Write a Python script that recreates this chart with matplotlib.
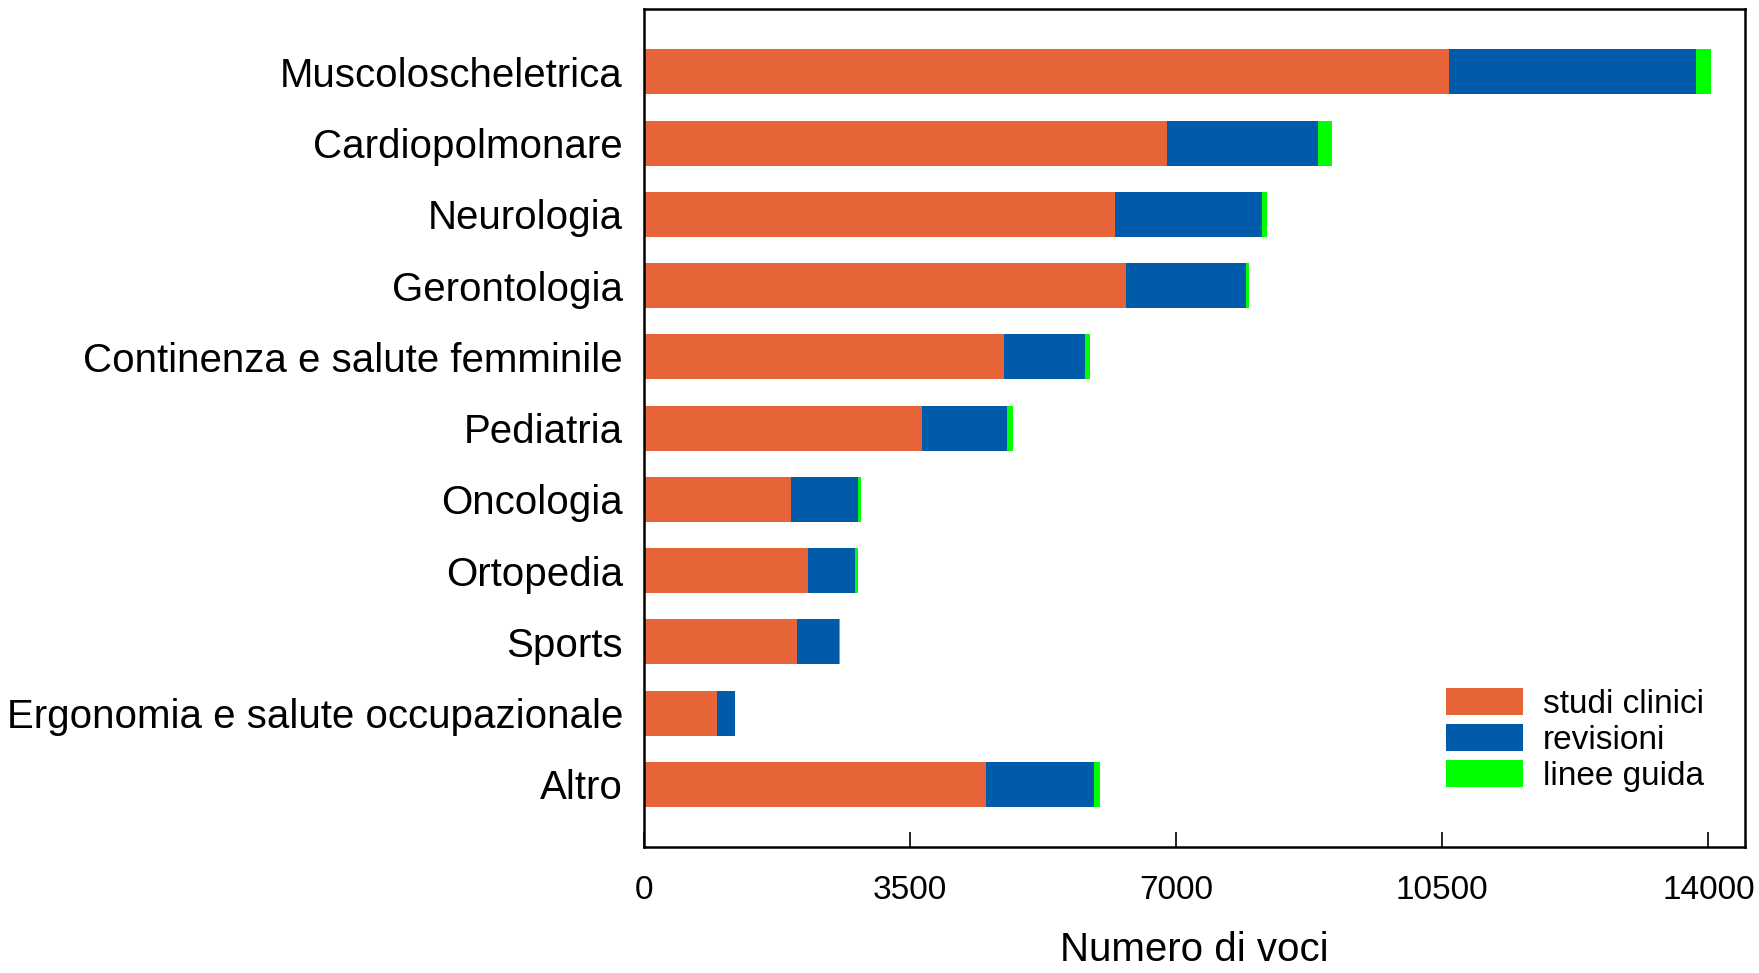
import numpy as np
import matplotlib.pyplot as plt

plt.rcParams['font.family'] = ['Liberation Sans', 'DejaVu Sans']

# categorie e valori
categorie = ['Muscoloscheletrica', 'Cardiopolmonare', 'Neurologia', 'Gerontologia',
             'Continenza e salute femminile', 'Pediatria', 'Oncologia', 'Ortopedia',
             'Sports', 'Ergonomia e salute occupazionale', 'Altro']
studi_clinici = [10590, 6880, 6190, 6340, 4740, 3660, 1935, 2155, 2010, 960, 4500]
revisioni = [3250, 1980, 1935, 1580, 1065, 1120, 885, 620, 560, 235, 1420]
linee_guida = [190, 190, 75, 45, 60, 75, 30, 45, 15, 10, 75]

col_studi = '#E66438'
col_rev = '#005BAA'
col_linee = '#00FF00'

fig = plt.figure(figsize=(17.59, 9.73), dpi=100)
ax = fig.add_axes([0.366, 0.1295, 0.626, 0.861])

y = np.arange(len(categorie))
h = 0.63
s = np.array(studi_clinici)
r = np.array(revisioni)
l = np.array(linee_guida)

ax.barh(y, s, h, color=col_studi, label='studi clinici')
ax.barh(y, r, h, left=s, color=col_rev, label='revisioni')
ax.barh(y, l, h, left=s + r, color=col_linee, label='linee guida')

ax.set_ylim(len(categorie) - 1 + 0.88, -0.88)
ax.set_xlim(0, 14480)
ax.set_yticks(y)
ax.set_yticklabels(categorie, fontsize=29)
ax.tick_params(axis='y', length=0, pad=15)
ax.set_xticks([0, 3500, 7000, 10500, 14000])
ax.tick_params(axis='x', direction='in', length=11, width=1.2, labelsize=24, pad=20)
for sp in ax.spines.values():
    sp.set_linewidth(1.8)

ax.set_xlabel('Numero di voci', fontsize=29, labelpad=18)

ax.legend(loc='lower right', bbox_to_anchor=(0.975, 0.05), frameon=False,
          fontsize=24, handlelength=2.3, handleheight=0.85, labelspacing=0.12,
          handletextpad=0.6, borderaxespad=0)

fig.savefig('out.png', dpi=100)
